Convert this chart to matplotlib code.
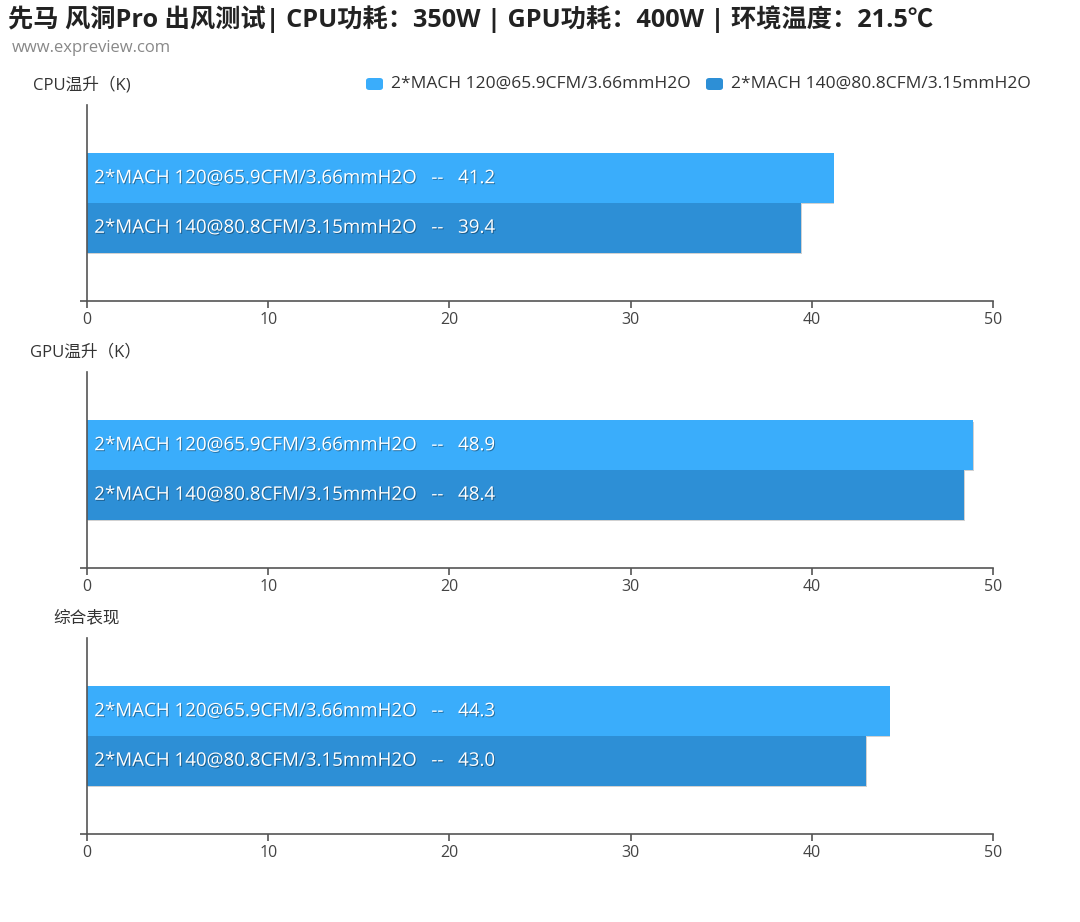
import matplotlib
matplotlib.use('Agg')
from matplotlib import pyplot as plt
from matplotlib import patheffects as pe

plt.rcParams['font.family'] = ['Open Sans', 'Noto Sans CJK SC', 'DejaVu Sans']

title = '先马 风洞Pro 出风测试| CPU功耗：350W | GPU功耗：400W | 环境温度：21.5℃'
subtitle = 'www.expreview.com'
series = ['2*MACH 120@65.9CFM/3.66mmH2O', '2*MACH 140@80.8CFM/3.15mmH2O']
colors = ['#3aadfb', '#2d8fd6']
panels = ['CPU温升（K)', 'GPU温升（K）', '综合表现']
values = [[41.2, 39.4],
          [48.9, 48.4],
          [44.3, 43.0]]
xticks = [0, 10, 20, 30, 40, 50]

fig = plt.figure(figsize=(10.8, 9.22), dpi=100)
fig.text(8 / 1080, 1 - 19 / 922, title, fontsize=18.2, fontweight='bold',
         color='#222222', ha='left', va='center')
fig.text(12 / 1080, 1 - 48 / 922, subtitle, fontsize=12, color='#888888',
         ha='left', va='center')

# legend
leg_x = [366, 706]
for i, s in enumerate(series):
    fig.patches.append(matplotlib.patches.FancyBboxPatch(
        ((leg_x[i]) / 1080, 1 - 90 / 922), 17 / 1080, 12 / 922,
        boxstyle='round,pad=0,rounding_size=0.003', transform=fig.transFigure,
        facecolor=colors[i], edgecolor='none'))
    fig.text((leg_x[i] + 25) / 1080, 1 - 84 / 922, s, fontsize=12.5,
             color='#333333', ha='left', va='center')

tops = [105, 372, 638]
bar_h = 0.253
offsets = [0.1265, -0.1265]
bar_fx = [pe.withSimplePatchShadow(offset=(0.5, -1), shadow_rgbFace='#000000', alpha=0.18)]
txt_fx = [pe.withSimplePatchShadow(offset=(0.7, -0.7), shadow_rgbFace='#000000', alpha=0.35)]

for p, name in enumerate(panels):
    top = tops[p]
    ax = fig.add_axes([87 / 1080, 1 - (top + 196) / 922, 906 / 1080, 196 / 922])
    for i, s in enumerate(series):
        v = values[p][i]
        ax.barh(offsets[i], v, height=bar_h, color=colors[i], edgecolor='none',
                path_effects=bar_fx, zorder=2)
        ax.text(0.4, offsets[i], f'{s}   --   {v:.1f}', color='white', fontsize=13.5,
                ha='left', va='center', path_effects=txt_fx, zorder=3)
    ax.set_xlim(0, 50)
    ax.set_ylim(-0.5, 0.5)
    ax.set_xticks(xticks)
    ax.set_xticklabels([str(t) for t in xticks])
    ax.set_yticks([-0.5])
    ax.set_yticklabels([''])
    for sp in ['top', 'right']:
        ax.spines[sp].set_visible(False)
    for sp in ['left', 'bottom']:
        ax.spines[sp].set_color('#555555')
        ax.spines[sp].set_linewidth(1.2)
    ax.tick_params(axis='x', length=5, width=1.2, color='#555555',
                   labelcolor='#444444', labelsize=11.5, pad=3)
    ax.tick_params(axis='y', length=5, width=1.2, color='#555555')
    ax.text(-0.06, 1.1, name, transform=ax.transAxes, fontsize=12,
            color='#333333', ha='left', va='center')

# panel label positions (left-aligned to reference)
for a, x in zip(fig.axes, [33, 30, 53]):
    a.texts[-1].set_x((x - 87) / 906)

fig.savefig('out.png', dpi=100, facecolor='white')
